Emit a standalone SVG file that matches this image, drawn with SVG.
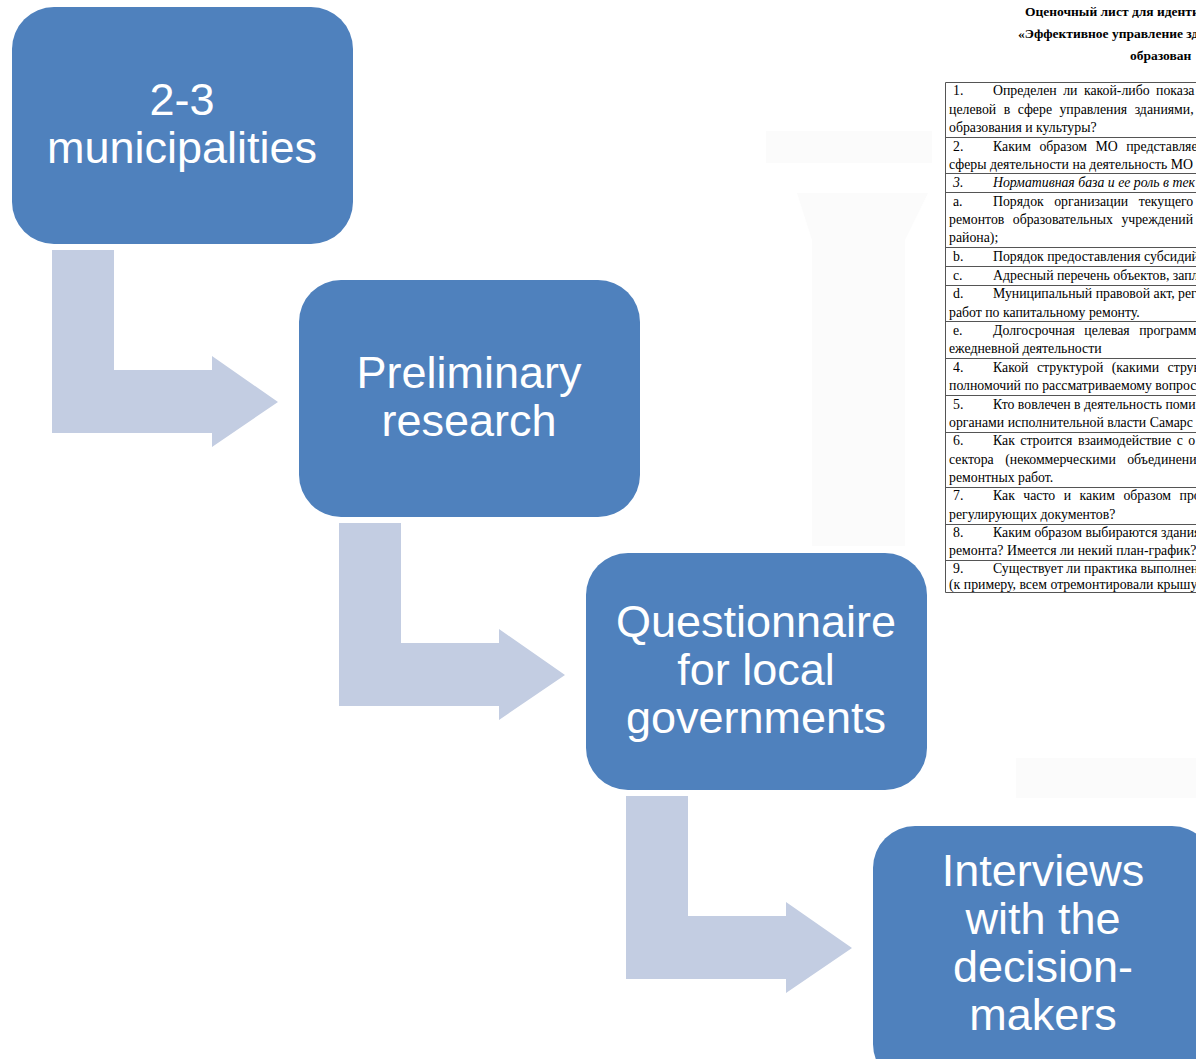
<svg xmlns="http://www.w3.org/2000/svg" width="1196" height="1059" viewBox="0 0 1196 1059">
<style>
.box{fill:#4f81bd}
.arr{fill:#c3cde2}
.lbl{font-family:"Liberation Sans",Arial,sans-serif;font-size:45px;fill:#fff;text-anchor:middle}
.t{font-family:"Liberation Serif","Times New Roman",serif;font-size:13.8px;fill:#000}
.h{font-family:"Liberation Serif","Times New Roman",serif;font-size:13.5px;font-weight:bold;fill:#000}
.i{font-style:italic}
.ln{stroke:#555;stroke-width:1;fill:none}
.wm{fill:#fbfbfb}
</style>
<rect width="1196" height="1059" fill="#fff"/>
<g id="watermark">
<rect class="wm" x="766" y="131" width="166" height="32"/>
<path class="wm" d="M797 193 L928 193 L905 240 L905 546 L812 546 L812 240 Z"/>
<rect class="wm" x="1016" y="758" width="180" height="40"/>
</g>
<g id="connectors">
<path class="arr" d="M52 250 H114 V370 H212 V356 L278 402 L212 447 V433 H52 Z"/>
<path class="arr" d="M339 523 H401 V643 H499 V629 L565 675 L499 720 V706 H339 Z"/>
<path class="arr" d="M626 796 H688 V916 H786 V902 L852 948 L786 993 V979 H626 Z"/>
</g>
<g id="node1">
<rect class="box" x="12" y="7" width="341" height="237" rx="42"/>
<text class="lbl" x="182" y="115">2-3</text>
<text class="lbl" x="182" y="163">municipalities</text>
</g>
<g id="node2">
<rect class="box" x="299" y="280" width="341" height="237" rx="42"/>
<text class="lbl" x="469" y="388">Preliminary</text>
<text class="lbl" x="469" y="436">research</text>
</g>
<g id="node3">
<rect class="box" x="586" y="553" width="341" height="237" rx="42"/>
<text class="lbl" x="756" y="637">Questionnaire</text>
<text class="lbl" x="756" y="685">for local</text>
<text class="lbl" x="756" y="733">governments</text>
</g>
<g id="node4">
<rect class="box" x="873" y="826" width="341" height="260" rx="42"/>
<text class="lbl" x="1043" y="886">Interviews</text>
<text class="lbl" x="1043" y="934">with the</text>
<text class="lbl" x="1043" y="982">decision-</text>
<text class="lbl" x="1043" y="1030">makers</text>
</g>
<g id="document">
<text class="h" x="1025" y="16">Оценочный лист для иденти</text>
<text class="h" x="1018" y="38">«Эффективное управление зд</text>
<text class="h" x="1130" y="60">образован</text>
<path class="ln" d="M1196 82.5 H945.5 V592.5 H1196 M945.5 137.5 H1196 M945.5 173.5 H1196 M945.5 192.5 H1196 M945.5 247.5 H1196 M945.5 266.5 H1196 M945.5 285.5 H1196 M945.5 321.5 H1196 M945.5 358.5 H1196 M945.5 395.5 H1196 M945.5 432.5 H1196 M945.5 487.5 H1196 M945.5 524.5 H1196 M945.5 560.5 H1196"/>
<text class="t" y="95"><tspan x="953">1.</tspan><tspan x="993" word-spacing="3">Определен ли какой-либо показа</tspan></text>
<text class="t" x="949" y="114" word-spacing="4">целевой в сфере управления зданиями,</text>
<text class="t" x="949" y="132">образования и культуры?</text>
<text class="t" y="151"><tspan x="953">2.</tspan><tspan x="993" word-spacing="5">Каким образом МО представляет</tspan></text>
<text class="t" x="949" y="169">сферы деятельности на деятельность МО</text>
<text class="t i" y="187"><tspan x="953">3.</tspan><tspan x="993">Нормативная база и ее роль в тек</tspan></text>
<text class="t" y="206"><tspan x="953">a.</tspan><tspan x="993" word-spacing="7">Порядок организации текущего</tspan></text>
<text class="t" x="949" y="224" word-spacing="5">ремонтов образовательных учреждений</text>
<text class="t" x="949" y="242">района);</text>
<text class="t" y="261"><tspan x="953">b.</tspan><tspan x="993">Порядок предоставления субсидий</tspan></text>
<text class="t" y="280"><tspan x="953">c.</tspan><tspan x="993">Адресный перечень объектов, запл</tspan></text>
<text class="t" y="298"><tspan x="953">d.</tspan><tspan x="993">Муниципальный правовой акт, рег</tspan></text>
<text class="t" x="949" y="317">работ по капитальному ремонту.</text>
<text class="t" y="335"><tspan x="953">e.</tspan><tspan x="993" word-spacing="6">Долгосрочная целевая программа</tspan></text>
<text class="t" x="949" y="353">ежедневной деятельности</text>
<text class="t" y="372"><tspan x="953">4.</tspan><tspan x="993" word-spacing="5">Какой структурой (какими струк</tspan></text>
<text class="t" x="949" y="390">полномочий по рассматриваемому вопрос</text>
<text class="t" y="409"><tspan x="953">5.</tspan><tspan x="993">Кто вовлечен в деятельность поми</tspan></text>
<text class="t" x="949" y="427">органами исполнительной власти Самарс</text>
<text class="t" y="445"><tspan x="953">6.</tspan><tspan x="993" word-spacing="2">Как строится взаимодействие с о</tspan></text>
<text class="t" x="949" y="464" word-spacing="8">сектора (некоммерческими объединени</text>
<text class="t" x="949" y="482">ремонтных работ.</text>
<text class="t" y="500"><tspan x="953">7.</tspan><tspan x="993" word-spacing="5">Как часто и каким образом про</tspan></text>
<text class="t" x="949" y="519">регулирующих документов?</text>
<text class="t" y="537"><tspan x="953">8.</tspan><tspan x="993">Каким образом выбираются здания</tspan></text>
<text class="t" x="949" y="555">ремонта? Имеется ли некий план-график?</text>
<text class="t" y="573"><tspan x="953">9.</tspan><tspan x="993">Существует ли практика выполнен</tspan></text>
<text class="t" x="949" y="589">(к примеру, всем отремонтировали крышу</text>
</g>
</svg>
